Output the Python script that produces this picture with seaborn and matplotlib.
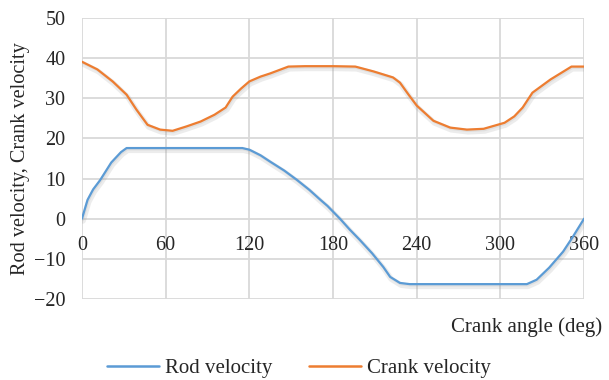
import matplotlib
matplotlib.use("Agg")
import matplotlib.pyplot as plt
import matplotlib.patheffects as pe
import seaborn as sns
import pandas as pd

# Rod velocity vs crank angle
rod_angle = [0, 4, 8, 13, 21, 28, 32, 60, 115, 120, 128, 135, 145, 154, 163, 171, 176,
             185, 192, 199, 208, 216, 221, 228, 235, 319, 326, 335, 345, 352, 360]
rod_velocity = [0, 4.7, 7.3, 9.6, 14.0, 16.6, 17.6, 17.6, 17.6, 17.2, 15.8, 14.2, 12.0, 9.7,
                7.2, 4.7, 3.2, 0, -2.7, -5.2, -8.6, -12.0, -14.5, -16.0, -16.3, -16.3,
                -15.2, -12.2, -8.2, -4.5, 0]

# Crank velocity vs crank angle
crank_angle = [0, 11, 22, 32, 39, 47, 56, 65, 75, 85, 95, 103, 108, 114, 120, 128, 135, 148,
               160, 180, 196, 209, 223, 228, 234, 240, 252, 264, 276, 288, 303, 310, 316,
               323, 336, 351, 360]
crank_velocity = [39.1, 37.2, 34.2, 30.9, 27.2, 23.4, 22.2, 21.9, 23.0, 24.2, 25.9, 27.7, 30.4,
                  32.4, 34.2, 35.4, 36.2, 37.9, 38.0, 38.0, 37.9, 36.7, 35.2, 33.9, 31.0,
                  28.2, 24.4, 22.7, 22.2, 22.4, 23.9, 25.5, 27.7, 31.4, 34.7, 37.9, 37.9]

series_names = ["Rod velocity", "Crank velocity"]
series_colors = ["#5B9BD5", "#ED7D31"]
x_ticks = [0, 60, 120, 180, 240, 300, 360]
y_ticks = [-20, -10, 0, 10, 20, 30, 40, 50]

df = pd.concat([
    pd.DataFrame({"angle": rod_angle, "value": rod_velocity, "series": series_names[0]}),
    pd.DataFrame({"angle": crank_angle, "value": crank_velocity, "series": series_names[1]}),
], ignore_index=True)

sns.set_theme(style="white")
plt.rcParams["font.family"] = ["Liberation Serif", "DejaVu Serif"]

fig = plt.figure(figsize=(6.09, 3.80), dpi=100)
ax = fig.add_axes([0.1346, 0.2132, 0.959 - 0.1346, 0.9526 - 0.2132])

sns.lineplot(data=df, x="angle", y="value", hue="series", hue_order=series_names,
             palette=series_colors, sort=False, estimator=None, linewidth=1.6,
             ax=ax, legend=False)

shadow = [pe.SimpleLineShadow(offset=(0.8, -1.6), shadow_color="#999999", alpha=0.18,
                              linewidth=4.0),
          pe.SimpleLineShadow(offset=(0.6, -1.0), shadow_color="#999999", alpha=0.15),
          pe.Normal()]
for line in ax.lines:
    line.set_path_effects(shadow)
    line.set_solid_capstyle("round")
    line.set_solid_joinstyle("round")

ax.set_xlim(0, 360)
ax.set_ylim(-20, 50)
ax.set_xticks(x_ticks)
ax.set_yticks(y_ticks)
ax.grid(True, color="#D9D9D9", linewidth=1.3)
ax.set_axisbelow(True)
for s in ax.spines.values():
    s.set_visible(False)

# x tick labels sit at the zero line
ax.spines["bottom"].set_position(("data", 0))
ax.tick_params(axis="x", length=0, pad=12.5, labelsize=14.5)
ax.tick_params(axis="y", length=0, pad=12, labelsize=14.5)
ax.set_xlabel("")
ax.set_ylabel("Rod velocity, Crank velocity", fontsize=14.6, labelpad=3)

fig.text(0.988, 0.14, "Crank angle (deg)", ha="right", va="center", fontsize=15)

handles = [plt.Line2D([], [], color=c, linewidth=1.8) for c in series_colors]
fig.legend(handles, series_names, loc="center", bbox_to_anchor=(0.491, 0.03), ncol=2,
           frameon=False, fontsize=15, handlelength=2.5, columnspacing=1.75,
           handletextpad=0.3)

fig.savefig("out.png", dpi=100)
